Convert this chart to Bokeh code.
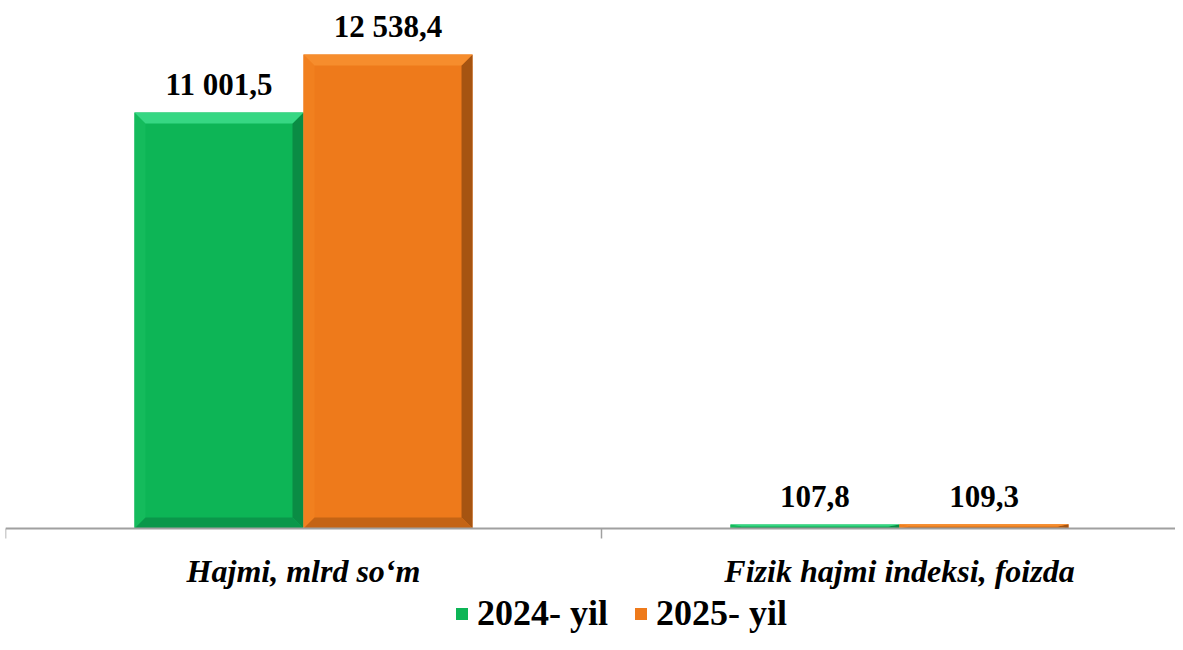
from bokeh.plotting import figure
from bokeh.models import Range1d, Legend, LegendItem, ColumnDataSource, Span
from bokeh.core.properties import value
from bokeh.embed import file_html
from bokeh.resources import INLINE

# ---- data ----
categories = ["Hajmi, mlrd so\u2018m", "Fizik hajmi indeksi, foizda"]
series_names = ["2024- yil", "2025- yil"]
values_2024 = [11001.5, 107.8]
values_2025 = [12538.4, 109.3]

# ---- styles ----
FONT = "Liberation Serif"
AXIS_COLOR = "#A0A0A0"
palettes = [
    dict(face="#0DB556", top="#36D783", left="#14BB5C", right="#0A8C44", bottom="#0A974A"),
    dict(face="#EE7A1B", top="#F68D2D", left="#F1801F", right="#A65411", bottom="#C46415"),
]

W, H = 1175, 634
BL, BR, BT, BB = 5, 0, 8, 0
frame_w = W - BL - BR
frame_h = H - BT - BB
X_UNIT_PX = 596.0
x_end = frame_w / X_UNIT_PX
UNITS_PER_PX_Y = 12538.4 / 474.0
BASE_PX = 520            # pixels from frame top to the baseline
y_end = BASE_PX * UNITS_PER_PX_Y
y_start = -(frame_h - BASE_PX) * UNITS_PER_PX_Y
BAR_W = 0.2836
BEVEL_PX = 11
LABEL_GAP_PX = 28
CAT_LABEL_PX = 42
TICK_PX = 10

px_x = 1.0 / X_UNIT_PX
px_y = UNITS_PER_PX_Y

p = figure(width=W, height=H, output_backend="svg", toolbar_location=None,
           x_range=Range1d(0, x_end), y_range=Range1d(y_start, y_end),
           min_border_left=BL, min_border_right=BR, min_border_top=BT, min_border_bottom=BB,
           x_axis_location=None, y_axis_location=None, outline_line_color=None)
p.grid.grid_line_color = None

series = [values_2024, values_2025]
face_renderers = []
for s, vals in enumerate(series):
    pal = palettes[s]
    x0s, x1s, tops, bottoms, centers = [], [], [], [], []
    polys = {"top": ([], []), "bottom": ([], []), "left": ([], []), "right": ([], [])}
    for i, v in enumerate(vals):
        c = i + 0.5
        x0 = c + (s - 1) * BAR_W
        x1 = x0 + BAR_W
        y0, y1 = 0.0, v
        x0s.append(x0); x1s.append(x1); tops.append(y1); bottoms.append(y0)
        centers.append((x0 + x1) / 2)
        bx = min(BEVEL_PX * px_x, (x1 - x0) / 2)
        by = min(BEVEL_PX * px_y, v / 2)
        polys["top"][0].append([x0, x1, x1 - bx, x0 + bx]); polys["top"][1].append([y1, y1, y1 - by, y1 - by])
        polys["bottom"][0].append([x0, x1, x1 - bx, x0 + bx]); polys["bottom"][1].append([y0, y0, y0 + by, y0 + by])
        polys["left"][0].append([x0, x0, x0 + bx, x0 + bx]); polys["left"][1].append([y0, y1, y1 - by, y0 + by])
        polys["right"][0].append([x1, x1, x1 - bx, x1 - bx]); polys["right"][1].append([y0, y1, y1 - by, y0 + by])
    src = ColumnDataSource(dict(left=x0s, right=x1s, top=tops, bottom=bottoms))
    r = p.quad(left="left", right="right", top="top", bottom="bottom", source=src,
               fill_color=pal["face"], line_color=None)
    face_renderers.append(r)
    for key in ["left", "right", "bottom", "top"]:
        xs, ys = polys[key]
        p.patches(xs=xs, ys=ys, fill_color=pal[key], line_color=None)
    labels = [f"{v:,.1f}".replace(",", " ").replace(".", ",") for v in vals]
    lsrc = ColumnDataSource(dict(x=centers, y=[t + LABEL_GAP_PX * px_y for t in tops], text=labels))
    p.text(x="x", y="y", text="text", source=lsrc, text_align="center", text_baseline="alphabetic",
           text_font=value(FONT), text_font_size="31px", text_font_style="bold",
           text_color="black")

# category axis (drawn by hand: line, boundary ticks, labels)
p.add_layout(Span(location=0, dimension="width", line_color=AXIS_COLOR, line_width=2))
bounds = list(range(len(categories) + 1))
p.segment(x0=bounds, y0=[0] * len(bounds), x1=bounds, y1=[-TICK_PX * px_y] * len(bounds),
          line_color=AXIS_COLOR, line_width=1.5)
cat_x = [i + 0.5 for i in range(len(categories))]
p.text(x=cat_x, y=[-CAT_LABEL_PX * px_y] * len(categories), text=categories,
       text_align="center", text_baseline="middle",
       text_font=value(FONT), text_font_size="32px", text_font_style="bold italic", text_color="black")

legend = Legend(items=[LegendItem(label=n, renderers=[r]) for n, r in zip(series_names, face_renderers)],
                location=(449, 0), orientation="horizontal",
                glyph_width=15, glyph_height=15, label_standoff=8, spacing=25,
                padding=0, margin=0, border_line_color=None, background_fill_alpha=0,
                label_text_font=FONT, label_text_font_size="36px", label_text_font_style="bold",
                label_text_color="black")
p.add_layout(legend)

open("out.html", "w").write(file_html(p, INLINE))
